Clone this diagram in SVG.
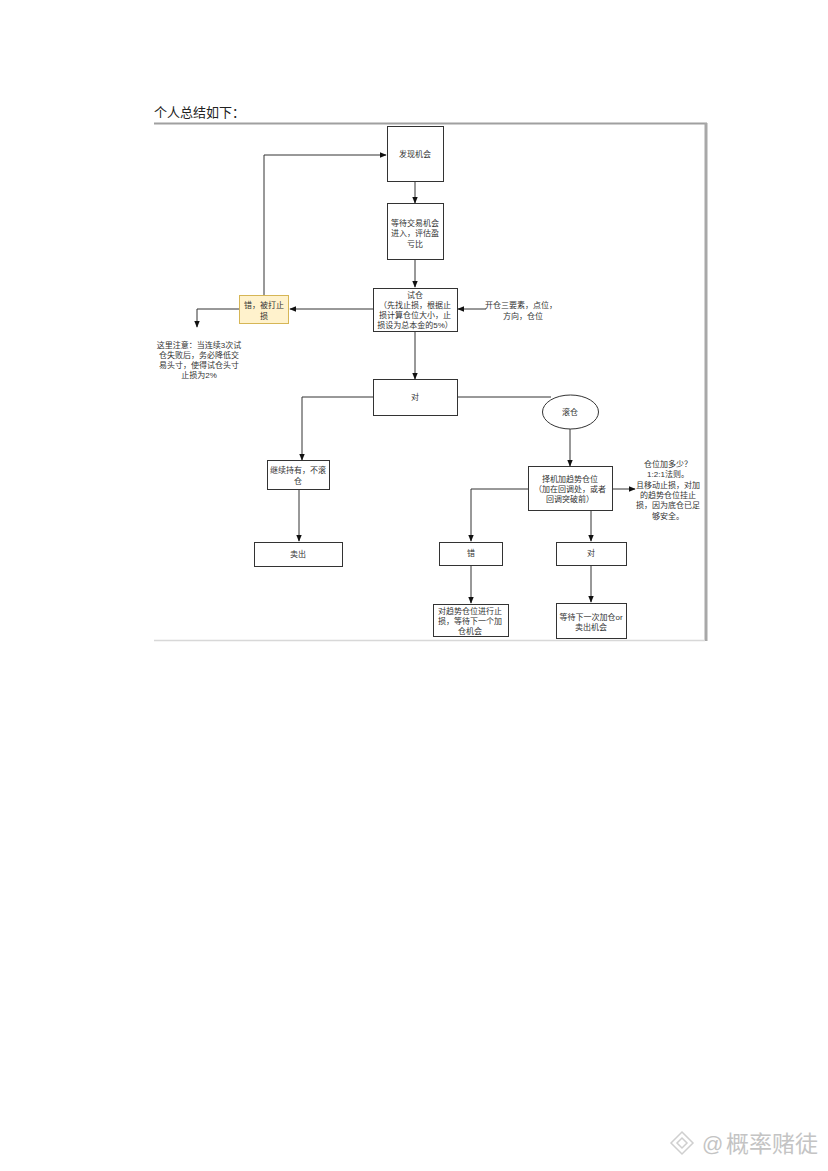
<svg xmlns="http://www.w3.org/2000/svg" width="828" height="1171" viewBox="0 0 828 1171">
<style>
.t{font-family:"Liberation Sans","Noto Sans CJK SC",sans-serif;font-size:8px;fill:#333;text-anchor:middle}
.b{fill:#fff;stroke:#333;stroke-width:1}
.c{fill:none;stroke:#333;stroke-width:1}
.h{font-family:"Liberation Serif","Noto Sans CJK SC",serif;font-size:13px;fill:#222}
.w{font-family:"Liberation Sans","Noto Sans CJK SC",sans-serif;fill:#c4c4c4}
</style>
<defs>
<marker id="ar" viewBox="0 0 10 10" refX="9" refY="5" markerWidth="7" markerHeight="7" orient="auto" markerUnits="userSpaceOnUse">
<path d="M0,1 L10,5 L0,9 Z" fill="#111"/>
</marker>
</defs>
<rect width="828" height="1171" fill="#fff"/>
<text class="h" x="154" y="117">个人总结如下：</text>
<g id="frame">
<line x1="154" y1="123.5" x2="707" y2="123.5" stroke="#a0a0a0" stroke-width="2"/>
<line x1="706" y1="123" x2="706" y2="641" stroke="#a8a8a8" stroke-width="3"/>
<line x1="154" y1="640.5" x2="705" y2="640.5" stroke="#d8d8d8" stroke-width="1.5"/>
</g>
<g id="connectors">
<path class="c" d="M415,182 V203" marker-end="url(#ar)"/>
<path class="c" d="M415,260 V287" marker-end="url(#ar)"/>
<path class="c" d="M373,309 H290" marker-end="url(#ar)"/>
<path class="c" d="M264,295 V155 H386" marker-end="url(#ar)"/>
<path class="c" d="M239,309 H197 V327" marker-end="url(#ar)"/>
<path class="c" d="M486,309 H458" marker-end="url(#ar)"/>
<path class="c" d="M415,331 V379" marker-end="url(#ar)"/>
<path class="c" d="M373,397 H302 V460" marker-end="url(#ar)"/>
<path class="c" d="M457,397 H551"/>
<path class="c" d="M570,429 V466" marker-end="url(#ar)"/>
<path class="c" d="M612,489 H635" marker-end="url(#ar)"/>
<path class="c" d="M528,489 H471 V541" marker-end="url(#ar)"/>
<path class="c" d="M591,511 V541" marker-end="url(#ar)"/>
<path class="c" d="M299,489 V541" marker-end="url(#ar)"/>
<path class="c" d="M471,565 V603" marker-end="url(#ar)"/>
<path class="c" d="M591,565 V602" marker-end="url(#ar)"/>
</g>
<g id="n-find">
<rect class="b" x="387.5" y="126.5" width="56" height="55"/>
<text class="t" x="415" y="157">发现机会</text>
</g>
<g id="n-wait">
<rect class="b" x="387.5" y="203.5" width="56" height="56"/>
<text class="t" x="415" y="226">等待交易机会</text>
<text class="t" x="415" y="236">进入，评估盈</text>
<text class="t" x="415" y="247">亏比</text>
</g>
<g id="n-try">
<rect class="b" x="373.5" y="288.5" width="84" height="43"/>
<text class="t" x="415" y="298">试仓</text>
<text class="t" x="415" y="308">（先找止损，根据止</text>
<text class="t" x="415" y="318">损计算仓位大小，止</text>
<text class="t" x="415" y="328">损设为总本金的5%）</text>
</g>
<g id="n-wrong1">
<rect x="239.5" y="295.5" width="49" height="28" fill="#fff2cc" stroke="#d6b656" stroke-width="1"/>
<text class="t" x="264" y="308">错，被打止</text>
<text class="t" x="264" y="319">损</text>
</g>
<g id="n-note1">
<text class="t" x="199" y="348">这里注意：当连续3次试</text>
<text class="t" x="199" y="358">仓失败后，务必降低交</text>
<text class="t" x="199" y="368">易头寸，使得试仓头寸</text>
<text class="t" x="199" y="378">止损为2%</text>
</g>
<g id="n-three">
<text class="t" x="521" y="308">开仓三要素，点位，</text>
<text class="t" x="523" y="319">方向，仓位</text>
</g>
<g id="n-right1">
<rect class="b" x="373.5" y="379.5" width="84" height="36"/>
<text class="t" x="415" y="400">对</text>
</g>
<g id="n-roll">
<ellipse cx="570.5" cy="412" rx="28" ry="17" fill="#fff" stroke="#333" stroke-width="1"/>
<text class="t" x="570" y="415">滚仓</text>
</g>
<g id="n-hold">
<rect class="b" x="267.5" y="460.5" width="62" height="29"/>
<text class="t" x="298" y="473">继续持有，不滚</text>
<text class="t" x="298" y="484">仓</text>
</g>
<g id="n-add">
<rect class="b" x="528.5" y="466.5" width="84" height="44"/>
<text class="t" x="570" y="482">择机加趋势仓位</text>
<text class="t" x="570" y="492">（加在回调处，或者</text>
<text class="t" x="570" y="502">回调突破前）</text>
</g>
<g id="n-note2">
<text class="t" x="668" y="467">仓位加多少？</text>
<text class="t" x="668" y="477">1:2:1法则。</text>
<text class="t" x="668" y="488">且移动止损，对加</text>
<text class="t" x="668" y="498">的趋势仓位挂止</text>
<text class="t" x="668" y="508">损，因为底仓已足</text>
<text class="t" x="668" y="519">够安全。</text>
</g>
<g id="n-sell">
<rect class="b" x="254.5" y="542.5" width="88" height="24"/>
<text class="t" x="298" y="557">卖出</text>
</g>
<g id="n-wrong2">
<rect class="b" x="439.5" y="542.5" width="63" height="23"/>
<text class="t" x="471" y="556">错</text>
</g>
<g id="n-right2">
<rect class="b" x="556.5" y="542.5" width="70" height="23"/>
<text class="t" x="591" y="556">对</text>
</g>
<g id="n-stop">
<rect class="b" x="433.5" y="604.5" width="75" height="32"/>
<text class="t" x="470" y="614">对趋势仓位进行止</text>
<text class="t" x="470" y="624">损，等待下一个加</text>
<text class="t" x="470" y="634">仓机会</text>
</g>
<g id="n-next">
<rect class="b" x="556.5" y="603.5" width="70" height="35"/>
<text class="t" x="591" y="620">等待下一次加仓or</text>
<text class="t" x="591" y="630">卖出机会</text>
</g>
<g id="watermark">
<g fill="none" stroke="#cfcfcf" stroke-width="1.5">
<path d="M682,1132 L693,1143 L682,1154 L671,1143 Z"/>
<path d="M682,1138 L687,1143 L682,1148 L677,1143 Z"/>
</g>
<text class="w" x="702" y="1151" font-size="21">@</text>
<text class="w" x="726" y="1152" font-size="23">概率赌徒</text>
</g>
</svg>
